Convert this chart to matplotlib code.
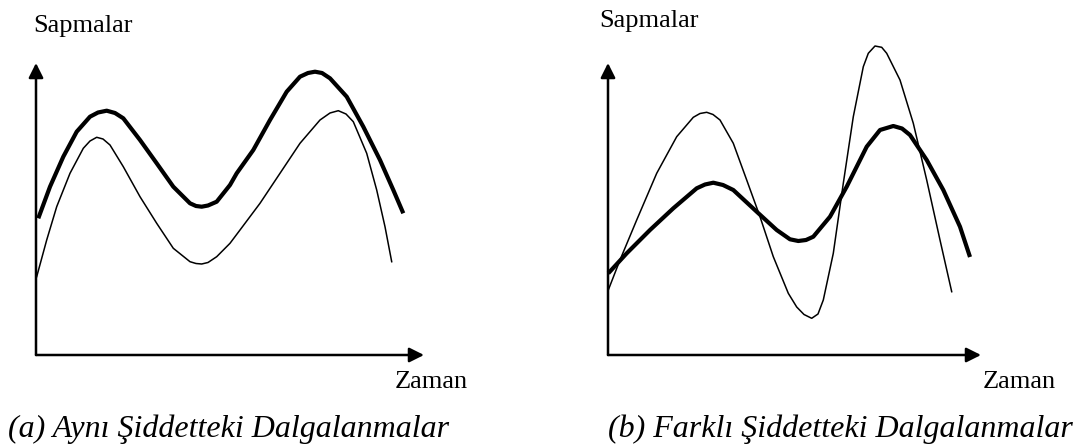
import matplotlib
matplotlib.use("Agg")
import matplotlib.pyplot as plt

# curves, x = time, y = deviation (origin at axis corner)
a_thick_t = [2.3, 14, 27.3, 40.7, 54, 62, 70.7, 79, 87.3, 104, 120.7, 137.3, 154, 160, 165.7, 172, 180.7,
             194, 200.7, 217.3, 234, 250.7, 264, 272, 279, 286, 294, 310.7, 327.3, 344, 357.3, 367.3]
a_thick_y = [136.7, 168.3, 198.3, 223.3, 238.3, 242.5, 244.3, 242, 236.7, 215, 191.7, 168.3, 151.7, 149, 148.3, 149.5, 153.3,
             170, 181.7, 205, 235, 263.3, 278.3, 282, 283.3, 282, 276.7, 258.3, 228.3, 195, 165, 141.7]
a_thin_t = [0.7, 10.7, 20.7, 34, 47.3, 54, 60.7, 67, 74, 87.3, 104, 120.7, 137.3, 154, 160, 165.7, 172, 180.7,
            194, 204, 224, 244, 264, 284, 294, 302.3, 310, 317.3, 330.7, 340.7, 349, 355.7]
a_thin_y = [78.3, 115, 148.3, 181.7, 206.7, 214, 217.7, 216, 210, 188.3, 158.3, 131.7, 106.7, 93.3, 91.5, 91, 92.5, 98.3,
            111.7, 125, 151.7, 181.7, 211.7, 235, 242, 244.3, 241, 233.3, 201.7, 165, 128.3, 93.3]

b_thick_t = [0.3, 18.7, 42, 65.3, 88.7, 97, 105.3, 115, 125.3, 148.7, 168.7, 182, 190.3, 198, 205.3, 222, 238.7,
             258.7, 272, 285.3, 294, 302, 318.7, 335.3, 352, 362]
b_thick_y = [81.7, 101.7, 125, 146.7, 166.7, 170.5, 172.3, 170, 165, 143.3, 125, 115.7, 114, 115, 118.3, 138.3, 168.3,
             208.3, 225, 229, 226.5, 220, 195, 165, 128.3, 98]
b_thin_t = [0.3, 12, 28.7, 48.7, 68.7, 85.3, 92, 98.7, 105, 112, 125.3, 138.7, 152, 165.3, 180.3, 188.7, 196,
            203.7, 210, 215.3, 225.3, 235.3, 245.3, 255.3, 260.3, 267, 273.7, 278.7, 292, 305.3, 318.7, 332, 343.7]
b_thin_y = [65, 95, 135, 181.7, 218.3, 237.7, 241.5, 242.7, 240.5, 235, 211.7, 175, 138.3, 98.3, 61.7, 48, 40.5,
            36.7, 41, 55, 101.7, 171.7, 238.3, 288.3, 301.7, 309, 307.7, 301.7, 275, 231.7, 175, 115, 63.3]

y_label = "Sapmalar"
x_label = "Zaman"
captions = ["(a) Aynı Şiddetteki Dalgalanmalar", "(b) Farklı Şiddetteki Dalgalanmalar"]

W, H = 1090, 444
plt.rcParams['font.family'] = ['Liberation Serif', 'DejaVu Serif']
fig = plt.figure(figsize=(W / 100, H / 100), dpi=100)


def px_axes(x0, y0, x1, y1):
    # axes box from pixel corners (top-left origin)
    return fig.add_axes([x0 / W, 1 - y1 / H, (x1 - x0) / W, (y1 - y0) / H])


def draw_panel(ax, xmax, ymax, thick_t, thick_y, thin_t, thin_y):
    ax.set_xlim(0, xmax)
    ax.set_ylim(0, ymax)
    ax.axis('off')
    arrow = dict(arrowstyle='-|>', lw=1.8, color='black', mutation_scale=22, shrinkA=0, shrinkB=0)
    ax.annotate('', xy=(0, ymax), xytext=(0, 0), arrowprops=arrow, annotation_clip=False)
    ax.annotate('', xy=(xmax, 0), xytext=(0, 0), arrowprops=arrow, annotation_clip=False)
    ax.plot(thin_t, thin_y, color='black', lw=1.1, clip_on=False, solid_joinstyle='round')
    ax.plot(thick_t, thick_y, color='black', lw=3.0, clip_on=False,
            solid_joinstyle='round', solid_capstyle='butt')


ax1 = px_axes(36, 63, 424, 355)
draw_panel(ax1, 388, 292, a_thick_t, a_thick_y, a_thin_t, a_thin_y)
ax2 = px_axes(608, 63, 981, 355)
draw_panel(ax2, 373, 292, b_thick_t, b_thick_y, b_thin_t, b_thin_y)


def px_text(x, y, s, **kw):
    fig.text(x / W, 1 - y / H, s, va='baseline', ha='left', **kw)


px_text(33, 32, y_label, fontsize=19)
px_text(599, 27, y_label, fontsize=19)
px_text(395, 388, x_label, fontsize=19)
px_text(983, 388, x_label, fontsize=19)
px_text(8, 437, captions[0], fontsize=23, style='italic')
px_text(608, 437, captions[1], fontsize=23, style='italic')

fig.savefig("out.png", dpi=100, facecolor='white')
